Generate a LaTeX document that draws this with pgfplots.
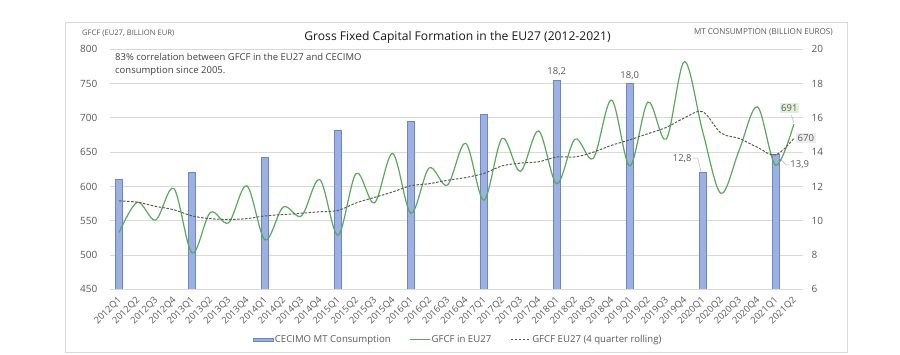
\documentclass[border=0pt]{standalone}
\usepackage{fontspec}
\setmainfont{Open Sans}
\usepackage{pgfplots}
\pgfplotsset{compat=1.18}
\definecolor{barfill}{HTML}{9DB0E2}
\definecolor{bardraw}{HTML}{6A86C6}
\definecolor{gline}{HTML}{5BA85B}
\definecolor{dline}{HTML}{555F4C}
\definecolor{gridc}{HTML}{D9D9D9}
\definecolor{txt}{HTML}{595959}
\definecolor{boxg}{HTML}{E2EFDA}
\definecolor{boxgr}{HTML}{EDEDED}
\begin{document}
\begin{tikzpicture}[x=1pt,y=1pt]
\path[use as bounding box] (0,0) rectangle (900,354);
\draw[gridc, line width=0.8pt] (65,2) rectangle (847,332);
\node[font=\fontsize{12.1}{14}\selectfont, text=black!90] at (457.5,317) {Gross Fixed Capital Formation in the EU27 (2012-2021)};
\node[font=\fontsize{7.6}{8}\selectfont, text=txt, anchor=west, inner sep=0pt] at (82,321) {GFCF (EU27, BILLION EUR)};
\node[font=\fontsize{8.1}{9}\selectfont, text=txt, anchor=east, inner sep=0pt] at (833,322) {MT CONSUMPTION (BILLION EUROS)};
\node[font=\fontsize{9.5}{13.3}\selectfont, text=black!75, anchor=north west, align=left, inner sep=0pt] at (115,301) {83\% correlation between GFCF in the EU27 and CECIMO\\consumption since 2005.};

% Bars on right axis
\begin{axis}[
  at={(110pt,64.7pt)}, anchor=south west, scale only axis,
  width=693pt, height=240pt,
  xmin=-0.5, xmax=37.5, ymin=6, ymax=20,
  hide x axis,
  axis y line*=right,
  y axis line style={draw=none},
  ytick={6,8,...,20},
  major tick length=0pt,
  ymajorgrids, grid style={gridc, line width=0.8pt},
  /pgf/number format/assume math mode=true,
  yticklabel style={font=\fontsize{10}{12}\selectfont, text=txt, anchor=west, inner sep=0pt, xshift=8.5pt},
  ybar, bar width=7pt,
  clip=false,
]
\addplot[fill=barfill, draw=bardraw, line width=0.6pt] coordinates {
(0,12.4) (4,12.8) (8,13.7) (12,15.3) (16,15.8) (20,16.2) (24,18.2) (28,18.0) (32,12.8) (36,13.9)};
\node[font=\fontsize{9.5}{11}\selectfont, text=txt, anchor=base] at (axis cs:24,18.2) [yshift=5.5pt] {18,2};
\node[font=\fontsize{9.5}{11}\selectfont, text=txt, anchor=base] at (axis cs:28,18.0) [yshift=5.5pt] {18,0};
\draw[gray!60, line width=0.5pt] (axis cs:32,12.8) ++(-1.5pt,0.5pt) -- ++(-3.5pt,14pt) -- ++(-5pt,0pt) node[anchor=east, inner sep=1pt, font=\fontsize{9.5}{11}\selectfont, text=txt] {12,8};
\draw[gray!60, line width=0.5pt] (axis cs:36,13.9) ++(2pt,-2.5pt) -- ++(8.5pt,-8.5pt) -- ++(3pt,0pt) node[anchor=west, inner sep=1pt, font=\fontsize{9.5}{11}\selectfont, text=txt] {13,9};
\end{axis}

% Lines on left axis
\begin{axis}[
  at={(110pt,64.7pt)}, anchor=south west, scale only axis,
  width=693pt, height=240pt,
  xmin=-0.5, xmax=37.5, ymin=450, ymax=800,
  axis y line*=left,
  axis x line*=bottom,
  y axis line style={draw=none},
  x axis line style={draw=gridc, line width=0.8pt},
  ytick={450,500,...,800},
  xtick={0,...,37},
  xticklabels={2012Q1,2012Q2,2012Q3,2012Q4,2013Q1,2013Q2,2013Q3,2013Q4,2014Q1,2014Q2,2014Q3,2014Q4,2015Q1,2015Q2,2015Q3,2015Q4,2016Q1,2016Q2,2016Q3,2016Q4,2017Q1,2017Q2,2017Q3,2017Q4,2018Q1,2018Q2,2018Q3,2018Q4,2019Q1,2019Q2,2019Q3,2019Q4,2020Q1,2020Q2,2020Q3,2020Q4,2021Q1,2021Q2},
  major tick length=0pt,
  /pgf/number format/assume math mode=true,
  yticklabel style={font=\fontsize{10}{12}\selectfont, text=txt, anchor=east, inner sep=0pt, xshift=-12.5pt},
  xticklabel style={font=\fontsize{9.3}{11}\selectfont, text=txt, rotate=45, anchor=north east, inner sep=0pt, yshift=-3pt, xshift=-6pt},
  clip=false,
  legend style={at={(0.502,-0.211)}, anchor=center, draw=none, fill=none,
    legend columns=3, font=\fontsize{9.6}{12}\selectfont, text=txt,
    /tikz/every even column/.append style={column sep=18pt},
    nodes={inner sep=1pt}},
  legend cell align=left,
]
\addlegendimage{legend image code/.code={\draw[fill=barfill, draw=bardraw, line width=0.5pt] (0pt,-1.7pt) rectangle (20pt,1.7pt);}}
\addlegendentry{CECIMO MT Consumption}
\addplot[gline, line width=1.2pt, smooth, tension=0.55, legend image code/.code={\draw[gline, line width=1pt] (0pt,0pt) -- (20pt,0pt);}] coordinates {
(0,533) (1,577) (2,551) (3,597) (4,503) (5,562) (6,547) (7,601) (8,522) (9,570)
(10,557) (11,610) (12,529) (13,619) (14,576) (15,648) (16,561) (17,627) (18,602) (19,663)
(20,580) (21,670) (22,622) (23,681) (24,604) (25,669) (26,641) (27,726) (28,630) (29,723)
(30,669) (31,782) (32,680) (33,590) (34,653) (35,716) (36,631) (37,691)};
\addlegendentry{GFCF in EU27}
\addplot[dline, line width=1pt, dash pattern=on 2.5pt off 1.5pt, smooth, tension=0.55, legend image code/.code={\draw[dline, line width=1pt, dash pattern=on 2.5pt off 1.5pt] (0pt,0pt) -- (20pt,0pt);}] coordinates {
(0,579) (1,577) (2,571) (3,566) (4,557) (5,553) (6,552) (7,553) (8,557) (9,559)
(10,561) (11,563) (12,565) (13,576) (14,584) (15,592) (16,601) (17,604) (18,609) (19,613)
(20,619) (21,630) (22,634) (23,636) (24,643) (25,643) (26,650) (27,660) (28,668) (29,677)
(30,686) (31,700) (32,709) (33,678) (34,670) (35,657) (36,646) (37,670)};
\addlegendentry{GFCF EU27 (4 quarter rolling)}
\draw[gray!60, line width=0.5pt] (axis cs:37,691) ++(0pt,1pt) -- ++(-2.5pt,8pt);
\node[fill=boxg, text=txt, font=\fontsize{9.5}{11}\selectfont, inner sep=1.5pt] at (axis cs:37,691) [xshift=-4.5pt, yshift=16pt] {691};
\node[fill=boxgr, text=txt, font=\fontsize{9.5}{11}\selectfont, inner sep=1.5pt] at (axis cs:37,670) [xshift=12pt, yshift=0pt] {670};
\end{axis}
\end{tikzpicture}
\end{document}
